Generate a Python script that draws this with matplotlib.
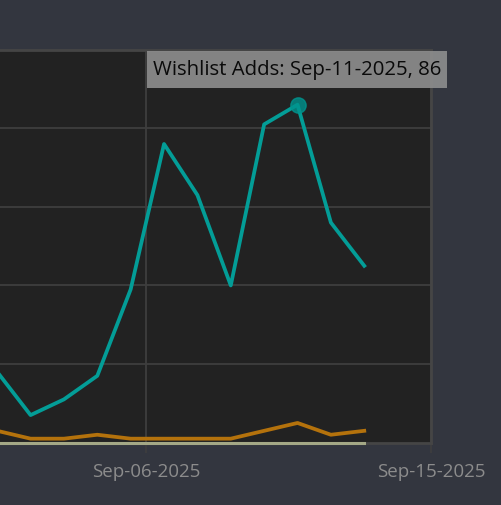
import matplotlib
matplotlib.use('Agg')
import matplotlib.pyplot as plt
from matplotlib.patches import Rectangle

# daily values, Sep 2 .. Sep 13 2025
days = [2, 3, 4, 5, 6, 7, 8, 9, 10, 11, 12, 13]
wishlist_adds = [18, 7, 11, 17, 39, 76, 63, 40, 81, 86, 56, 45]
wishlist_deletes = [3, 1, 1, 2, 1, 1, 1, 1, 3, 5, 2, 3]
purchases = [0, 0, 0, 0, 0, 0, 0, 0, 0, 0, 0, 0]

tick_pos = [6.47, 15.0]
tick_labels = ['Sep-06-2025', 'Sep-15-2025']
hover_idx = 9

W, H = 502, 505
fig = plt.figure(figsize=(W / 100, H / 100), dpi=100, facecolor='#33363f')

# axes: right edge at 431px, top at 49.7px, bottom at 442.6px; left is off-canvas
x_lo, x_hi = 1.0, 15.0
px_per_day = 33.37
ax_w = (x_hi - x_lo) * px_per_day
ax = fig.add_axes([(431 - ax_w) / W, (H - 442.6) / H, ax_w / W, (442.6 - 49.7) / H])
ax.set_facecolor('#222222')
ax.set_xlim(x_lo, x_hi)
ax.set_ylim(0, 100)

for s in ax.spines.values():
    s.set_color('#454545')
    s.set_linewidth(2)

ax.set_yticks([20, 40, 60, 80])
ax.set_yticklabels([])
ax.tick_params(axis='y', length=0)
ax.set_xticks(tick_pos)
ax.set_xticklabels(tick_labels, fontfamily='Open Sans', fontsize=13.5, color='#8c8c8c')
ax.tick_params(axis='x', length=7, width=1.2, color='#3e3e3e', pad=8)
ax.grid(True, color='#3e3e3e', linewidth=1.3)
ax.set_axisbelow(True)

ax.plot(days, wishlist_adds, color='#039d97', lw=2.7, zorder=3)
ax.plot(days, wishlist_deletes, color='#b4720c', lw=2.7, zorder=3)
ax.plot(days, purchases, color='#a4a886', lw=2.2, zorder=4, clip_on=False)
ax.plot(days[hover_idx], wishlist_adds[hover_idx], 'o', ms=11, color='#00948e', alpha=0.8, zorder=5)

# tooltip box (pixel coords from top-left)
fig.patches.append(Rectangle((147 / W, 1 - 88 / H), 300 / W, 37 / H, transform=fig.transFigure,
                             facecolor='#8e8e8e', edgecolor='none', alpha=0.9, zorder=10))
fig.text(297 / W, 1 - 69.5 / H, 'Wishlist Adds: Sep-%02d-2025, %d' % (days[hover_idx], wishlist_adds[hover_idx]),
         ha='center', va='center', fontfamily='Open Sans', fontsize=14.7, color='#0a0a0a', zorder=11)

fig.savefig('out.png', dpi=100, facecolor=fig.get_facecolor())
